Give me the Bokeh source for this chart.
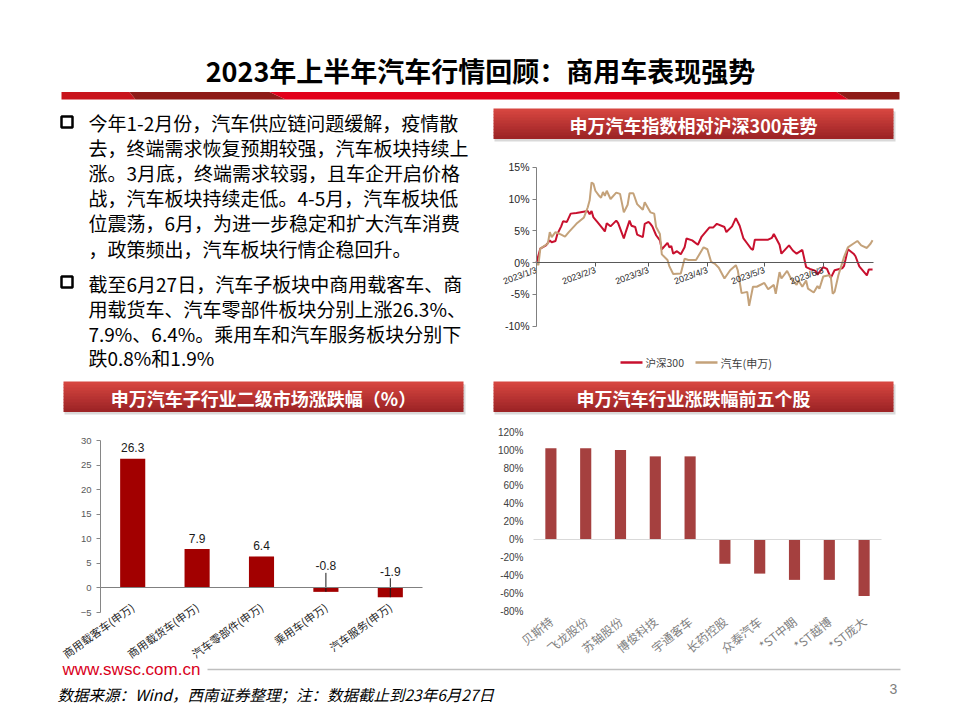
import numpy as np
import pandas as pd
from bokeh.plotting import figure
from bokeh.models import (Range1d, ColumnDataSource, LabelSet, FixedTicker,
                          PrintfTickFormatter, LinearAxis, DatetimeAxis)
from bokeh.embed import file_html
from bokeh.resources import INLINE
from bokeh.core.properties import value

# ---------------- texts ----------------
TITLE = "2023年上半年汽车行情回顾：商用车表现强势"
PARA1 = ["今年1-2月份，汽车供应链问题缓解，疫情散",
         "去，终端需求恢复预期较强，汽车板块持续上",
         "涨。3月底，终端需求较弱，且车企开启价格",
         "战，汽车板块持续走低。4-5月，汽车板块低",
         "位震荡，6月，为进一步稳定和扩大汽车消费",
         "，政策频出，汽车板块行情企稳回升。"]
PARA2 = ["截至6月27日，汽车子板块中商用载客车、商",
         "用载货车、汽车零部件板块分别上涨26.3%、",
         "7.9%、6.4%。乘用车和汽车服务板块分别下",
         "跌0.8%和1.9%"]
HEAD1 = "申万汽车指数相对沪深300走势"
HEAD2 = "申万汽车子行业二级市场涨跌幅（%）"
HEAD3 = "申万汽车行业涨跌幅前五个股"
SITE = "www.swsc.com.cn"
NOTE = "数据来源：Wind，西南证券整理；注：数据截止到23年6月27日"
PAGE = "3"

# ---------------- line chart data (%) ----------------
HS_NAME = "沪深300"
HS_DATES = ["2023-01-03", "2023-01-05", "2023-01-08", "2023-01-10", "2023-01-11", "2023-01-13",
            "2023-01-14", "2023-01-16", "2023-01-17", "2023-01-19", "2023-01-21", "2023-01-24",
            "2023-01-30", "2023-01-31", "2023-02-01", "2023-02-02", "2023-02-04", "2023-02-07",
            "2023-02-08", "2023-02-09", "2023-02-11", "2023-02-14", "2023-02-15", "2023-02-18",
            "2023-02-19", "2023-02-21", "2023-02-22", "2023-02-24", "2023-02-25", "2023-02-28",
            "2023-03-01", "2023-03-03", "2023-03-04", "2023-03-05", "2023-03-07", "2023-03-09",
            "2023-03-10", "2023-03-13", "2023-03-14", "2023-03-15", "2023-03-16", "2023-03-18",
            "2023-03-20", "2023-03-22", "2023-03-23", "2023-03-26", "2023-03-29", "2023-03-31",
            "2023-04-04", "2023-04-06", "2023-04-08", "2023-04-12", "2023-04-13", "2023-04-16",
            "2023-04-18", "2023-04-20", "2023-04-22", "2023-04-24", "2023-04-26", "2023-04-27",
            "2023-04-28", "2023-05-05", "2023-05-07", "2023-05-08", "2023-05-11", "2023-05-12",
            "2023-05-16", "2023-05-18", "2023-05-20", "2023-05-23", "2023-05-25", "2023-05-27",
            "2023-05-30", "2023-05-31", "2023-06-03", "2023-06-05", "2023-06-07", "2023-06-09",
            "2023-06-13", "2023-06-14", "2023-06-16", "2023-06-19", "2023-06-20", "2023-06-22",
            "2023-06-24", "2023-06-26", "2023-06-27", "2023-06-29"]
HS_VALS = [0.0, 2.2, 2.7, 3.5, 3.2, 3.4, 4.5, 5.7, 6.5, 6.4, 7.7, 7.8, 8.1, 7.6, 8.1, 7.1, 6.4, 5.3,
           4.9, 6.2, 5.7, 6.6, 6.2, 3.8, 4.8, 6.6, 5.8, 5.6, 4.4, 4.0, 6.1, 6.4, 6.1, 5.7, 4.3, 3.5,
           2.1, 3.1, 2.4, 2.6, 1.4, 1.8, 1.3, 2.4, 3.8, 3.5, 2.8, 4.1, 5.5, 5.5, 6.1, 5.6, 4.8, 5.7,
           7.0, 5.8, 3.8, 3.0, 2.2, 2.0, 3.6, 3.6, 3.9, 4.5, 2.8, 1.4, 2.7, 1.9, 1.4, 2.0, -0.7, -1.0,
           -1.3, -1.9, -0.7, -1.0, -2.4, -1.2, -0.9, -0.5, 2.1, 1.4, 1.0, -0.6, -1.3, -2.0, -1.1, -1.1]

QC_NAME = "汽车(申万)"
QC_DATES = ["2023-01-03", "2023-01-04", "2023-01-05", "2023-01-09", "2023-01-10", "2023-01-11",
            "2023-01-13", "2023-01-16", "2023-01-18", "2023-01-20", "2023-01-24", "2023-01-28",
            "2023-01-30", "2023-01-31", "2023-02-01", "2023-02-02", "2023-02-03", "2023-02-05",
            "2023-02-06", "2023-02-07", "2023-02-08", "2023-02-09", "2023-02-11", "2023-02-14",
            "2023-02-16", "2023-02-18", "2023-02-20", "2023-02-21", "2023-02-23", "2023-02-25",
            "2023-02-28", "2023-03-01", "2023-03-04", "2023-03-06", "2023-03-07", "2023-03-09",
            "2023-03-10", "2023-03-13", "2023-03-14", "2023-03-16", "2023-03-20", "2023-03-22",
            "2023-03-24", "2023-03-28", "2023-04-01", "2023-04-03", "2023-04-05", "2023-04-07",
            "2023-04-09", "2023-04-12", "2023-04-15", "2023-04-18", "2023-04-19", "2023-04-21",
            "2023-04-24", "2023-04-25", "2023-04-27", "2023-04-29", "2023-05-03", "2023-05-05",
            "2023-05-08", "2023-05-09", "2023-05-11", "2023-05-12", "2023-05-15", "2023-05-17",
            "2023-05-20", "2023-05-21", "2023-05-23", "2023-05-25", "2023-05-26", "2023-05-29",
            "2023-05-31", "2023-06-01", "2023-06-03", "2023-06-06", "2023-06-07", "2023-06-08",
            "2023-06-09", "2023-06-11", "2023-06-14", "2023-06-16", "2023-06-19", "2023-06-21",
            "2023-06-23", "2023-06-26", "2023-06-28", "2023-06-29"]
QC_VALS = [0.0, -0.4, 2.2, 3.0, 4.8, 4.0, 4.8, 4.4, 4.1, 4.8, 6.1, 7.1, 8.7, 9.8, 12.6, 12.4, 11.3,
           10.5, 10.2, 11.1, 10.5, 11.3, 10.0, 11.0, 10.8, 7.9, 9.1, 10.9, 10.9, 9.2, 8.3, 9.5, 7.9,
           7.7, 5.6, 4.5, 1.3, 0.4, -0.6, -1.8, -1.7, 0.6, 0.4, 0.4, 2.4, 2.1, 0.1, -0.2, -0.8, -2.5,
           -1.2, -0.4, -1.2, -4.8, -4.6, -6.8, -3.8, -3.8, -3.2, -4.2, -3.5, -4.9, -1.5, -2.5, -1.3,
           -2.5, -3.5, -2.8, -3.8, -2.8, -4.1, -4.7, -3.7, -4.1, -2.2, -2.0, -2.2, -4.9, -4.6, -2.0,
           0.9, 2.4, 3.0, 3.4, 2.7, 2.3, 3.0, 3.5]

LINE_START, LINE_END = "2023-01-03", "2023-06-29 10:00"
LINE_TICK_DATES = ["2023-01-03", "2023-02-03", "2023-03-03", "2023-04-03", "2023-05-03", "2023-06-03"]
LINE_TICK_LABELS = ["2023/1/3", "2023/2/3", "2023/3/3", "2023/4/3", "2023/5/3", "2023/6/3"]
LINE_Y_MIN, LINE_Y_MAX = -10, 15
LINE_Y_TICKS = [-10, -5, 0, 5, 10, 15]

# ---------------- sub-industry bar data ----------------
SEC_CATS = ["商用载客车(申万)", "商用载货车(申万)", "汽车零部件(申万)", "乘用车(申万)", "汽车服务(申万)"]
SEC_VALS = [26.3, 7.9, 6.4, -0.8, -1.9]
SEC_Y_MIN, SEC_Y_MAX = -5, 30
SEC_Y_TICKS = [-5, 0, 5, 10, 15, 20, 25, 30]

# ---------------- stock bar data (%) ----------------
STK_CATS = ["贝斯特", "飞龙股份", "苏轴股份", "博俊科技", "宇通客车",
            "长药控股", "众泰汽车", "*ST中期", "*ST越博", "*ST庞大"]
STK_VALS = [102, 102, 100, 93, 93, -27, -38, -45, -45, -63]
STK_Y_MIN, STK_Y_MAX = -80, 120
STK_Y_TICKS = [-80, -60, -40, -20, 0, 20, 40, 60, 80, 100, 120]

CJK = value("Noto Sans CJK SC")
ARIAL = value("Liberation Sans")
W, H = 960, 720


def ms(d):
    return pd.Timestamp(d).value / 1e6


def lin_range(v0, p0, v1, p1, lo, hi):
    """Range whose values v0, v1 fall on page pixels p0, p1 (page spans lo..hi)."""
    k = (v1 - v0) / (p1 - p0)
    return Range1d(start=v0 + k * (lo - p0), end=v0 + k * (hi - p0))


p = figure(width=W, height=H, x_range=Range1d(0, W), y_range=Range1d(H, 0),
           x_axis_type=None, y_axis_type=None, toolbar_location=None,
           output_backend="svg", min_border=0, outline_line_color=None,
           background_fill_color="white", border_fill_color="white")

# chart placements on the page
p.extra_x_ranges = {
    "lx": lin_range(ms(LINE_TICK_DATES[0]), 536, ms(LINE_TICK_DATES[5]), 822.7, 0, W),
    "bx": lin_range(-0.5, 100, len(SEC_CATS) - 0.5, 422, 0, W),
    "sx": lin_range(-0.5, 533, len(STK_CATS) - 0.5, 881, 0, W),
}
p.extra_y_ranges = {
    "ly": lin_range(LINE_Y_MIN, 325.7, LINE_Y_MAX, 166.7, H, 0),
    "by": lin_range(SEC_Y_MIN, 612, SEC_Y_MAX, 440, H, 0),
    "sy": lin_range(STK_Y_MIN, 610.7, STK_Y_MAX, 431.7, H, 0),
}


def style_axis(ax, size, color, line=None, ticks=None, font="Liberation Sans", tick_out=4):
    ax.axis_line_color = line
    ax.major_tick_line_color = ticks
    ax.minor_tick_line_color = None
    ax.major_tick_in = 0
    ax.major_tick_out = tick_out
    ax.major_label_text_font = font
    ax.major_label_text_font_size = size
    ax.major_label_text_color = color


def header(x0, x1, y0, y1, label):
    p.quad(left=[x0 + 1], right=[x1 + 2], top=[y0 + 3], bottom=[y1 + 3],
           fill_color="#808080", fill_alpha=0.3, line_color=None)
    n = 10
    top_rgb = np.array([214, 70, 64])
    bot_rgb = np.array([158, 36, 38])
    h = (y1 - y0) / n
    cols = []
    for i in range(n):
        c = top_rgb + (bot_rgb - top_rgb) * i / (n - 1)
        cols.append("#%02x%02x%02x" % tuple(int(round(v)) for v in c))
    p.quad(left=[x0] * n, right=[x1] * n,
           top=[y0 + i * h for i in range(n)],
           bottom=[y0 + (i + 1) * h + 0.6 for i in range(n)],
           fill_color=cols, line_color=None)
    p.text(x=[(x0 + x1) / 2], y=[(y0 + y1) / 2 + 1], text=[label], text_color="white",
           text_font=CJK, text_font_style="bold", text_font_size="18px",
           text_align="center", text_baseline="middle")


# ---------------- title ----------------
p.text(x=[480], y=[70], text=[TITLE], text_font=CJK, text_font_style="bold",
       text_font_size="27px", text_color="black", text_align="center", text_baseline="middle")
band_y0, band_y1 = 91.5, 99
p.patches(xs=[[61, 129, 135, 61], [129, 269, 285, 135], [269, 836, 848, 285], [836, 899, 899, 848]],
          ys=[[band_y0, band_y0, band_y1, band_y1]] * 4,
          fill_color=["#C8141C", "#8E1B17", "#E2001A", "#8E1B17"], line_color=None)

# ---------------- text block ----------------
p.quad(left=[61, 61], right=[72, 72], top=[116, 276], bottom=[127, 287],
       fill_color=None, line_color="black", line_width=2.5)
y1s = [122, 147, 172, 197, 222, 248]
y2s = [283, 308, 333, 357]
p.text(x=[88] * (len(PARA1) + len(PARA2)), y=y1s + y2s, text=PARA1 + PARA2,
       text_font=CJK, text_font_size="19px", text_color="black",
       text_align="left", text_baseline="middle")

# ---------------- headers ----------------
header(493, 893, 108, 138, HEAD1)
header(63, 463, 381, 411, HEAD2)
header(493, 893, 381, 411, HEAD3)

# ---------------- line chart ----------------
p.line(x=pd.to_datetime(HS_DATES), y=HS_VALS, line_color="#C8102E", line_width=2,
       x_range_name="lx", y_range_name="ly")
p.line(x=pd.to_datetime(QC_DATES), y=QC_VALS, line_color="#C4A27A", line_width=2,
       x_range_name="lx", y_range_name="ly")

tick_ms = [ms(d) for d in LINE_TICK_DATES]
ly_axis = LinearAxis(x_range_name="lx", y_range_name="ly", fixed_location=ms(LINE_START),
                     bounds=(LINE_Y_MIN, LINE_Y_MAX), ticker=FixedTicker(ticks=LINE_Y_TICKS),
                     formatter=PrintfTickFormatter(format="%d%%"), major_label_standoff=3)
style_axis(ly_axis, "10.5px", "#262626", line="#808080", ticks="#808080")
p.add_layout(ly_axis, "left")
lx_axis = DatetimeAxis(x_range_name="lx", y_range_name="ly", fixed_location=0,
                       bounds=(ms(LINE_START), ms(LINE_END)), ticker=FixedTicker(ticks=tick_ms),
                       major_label_overrides={t: s for t, s in zip(tick_ms, LINE_TICK_LABELS)},
                       major_label_orientation=0.35, major_label_standoff=3)
style_axis(lx_axis, "9px", "#262626", line="#595959", ticks="#595959")
p.add_layout(lx_axis, "below")

# legend
p.segment(x0=[620, 695], y0=[362, 362], x1=[642, 717], y1=[362, 362],
          line_color=["#C8102E", "#C4A27A"], line_width=2.5)
p.text(x=[645, 720], y=[362, 362], text=[HS_NAME, QC_NAME], text_font=CJK,
       text_font_size=["10.5px", "11px"], text_color="#404040", text_align="left",
       text_baseline="middle")

# ---------------- sub-industry bars ----------------
sec_idx = list(range(len(SEC_CATS)))
p.vbar(x=sec_idx, top=SEC_VALS, width=0.39, fill_color="#A20000", line_color=None,
       x_range_name="bx", y_range_name="by")

b_zero = LinearAxis(x_range_name="bx", y_range_name="by", fixed_location=0,
                    bounds=(-0.5, len(SEC_CATS) - 0.5), ticker=FixedTicker(ticks=[]))
style_axis(b_zero, "9px", "#595959", line="#808080", ticks=None, tick_out=0)
p.add_layout(b_zero, "below")
b_cat = LinearAxis(x_range_name="bx", y_range_name="by", fixed_location=SEC_Y_MIN,
                   ticker=FixedTicker(ticks=sec_idx),
                   major_label_overrides={float(i): c for i, c in zip(sec_idx, SEC_CATS)},
                   major_label_orientation=0.62, major_label_standoff=-7)
style_axis(b_cat, "11px", "#262626", line=None, ticks=None, font="Noto Sans CJK SC", tick_out=0)
p.add_layout(b_cat, "below")
b_y = LinearAxis(x_range_name="bx", y_range_name="by", fixed_location=-0.5,
                 bounds=(SEC_Y_MIN, SEC_Y_MAX), ticker=FixedTicker(ticks=SEC_Y_TICKS),
                 major_label_standoff=5)
style_axis(b_y, "9.5px", "#595959", line="#868686", ticks="#868686")
p.add_layout(b_y, "left")

pos = [(i, v, f"{v:.1f}") for i, v in zip(sec_idx, SEC_VALS) if v >= 0]
neg = [(i, v, f"{v:.1f}") for i, v in zip(sec_idx, SEC_VALS) if v < 0]
src_pos = ColumnDataSource(dict(x=[a[0] for a in pos], y=[a[1] for a in pos], t=[a[2] for a in pos]))
src_neg = ColumnDataSource(dict(x=[a[0] for a in neg], y=[a[1] for a in neg], t=[a[2] for a in neg]))
for src, off in ((src_pos, 11), (src_neg, 26)):
    p.add_layout(LabelSet(x="x", y="y", text="t", source=src, y_offset=off,
                          x_range_name="bx", y_range_name="by",
                          text_align="center", text_baseline="middle", text_font=ARIAL,
                          text_font_size="12px", text_color="#1a1a1a"))
px_per_unit = (612 - 440) / float(SEC_Y_MAX - SEC_Y_MIN)
lead = 19 / px_per_unit
p.segment(x0=[a[0] for a in neg], y0=[a[1] for a in neg],
          x1=[a[0] for a in neg], y1=[a[1] + lead for a in neg],
          line_color="#1a1a1a", line_width=1, x_range_name="bx", y_range_name="by")

# ---------------- stock bars ----------------
stk_idx = list(range(len(STK_CATS)))
s_zero = LinearAxis(x_range_name="sx", y_range_name="sy", fixed_location=0,
                    bounds=(-0.5, len(STK_CATS) - 0.5), ticker=FixedTicker(ticks=[]))
style_axis(s_zero, "9px", "#595959", line="#D9D9D9", ticks=None, tick_out=0)
p.add_layout(s_zero, "below")
p.vbar(x=stk_idx, top=STK_VALS, width=0.32, fill_color="#A5403F", line_color=None,
       x_range_name="sx", y_range_name="sy")
s_cat = LinearAxis(x_range_name="sx", y_range_name="sy", fixed_location=STK_Y_MIN,
                   ticker=FixedTicker(ticks=stk_idx),
                   major_label_overrides={float(i): c for i, c in zip(stk_idx, STK_CATS)},
                   major_label_orientation=0.68, major_label_standoff=8)
style_axis(s_cat, "12px", "#7F7F7F", line=None, ticks=None, font="Noto Sans CJK SC", tick_out=0)
p.add_layout(s_cat, "below")
s_y = LinearAxis(x_range_name="sx", y_range_name="sy", fixed_location=-0.5,
                 bounds=(STK_Y_MIN, STK_Y_MAX), ticker=FixedTicker(ticks=STK_Y_TICKS),
                 formatter=PrintfTickFormatter(format="%d%%"), major_label_standoff=10)
style_axis(s_y, "10px", "#404040", line=None, ticks=None, tick_out=0)
p.add_layout(s_y, "left")

# ---------------- footer ----------------
p.segment(x0=[207], y0=[669], x1=[900], y1=[669], line_color="#BFBFBF", line_width=1.5)
p.text(x=[62], y=[669], text=[SITE], text_font=ARIAL, text_font_size="17px",
       text_color="#D9001B", text_align="left", text_baseline="middle")
p.text(x=[57], y=[693], text=[NOTE], text_font=CJK, text_font_style="italic",
       text_font_size="15.5px", text_color="black", text_align="left", text_baseline="middle")
p.text(x=[893], y=[688], text=[PAGE], text_font=ARIAL, text_font_size="14px",
       text_color="#7F7F7F", text_align="center", text_baseline="middle")

open("out.html", "w").write(file_html(p, INLINE, title="chart"))
